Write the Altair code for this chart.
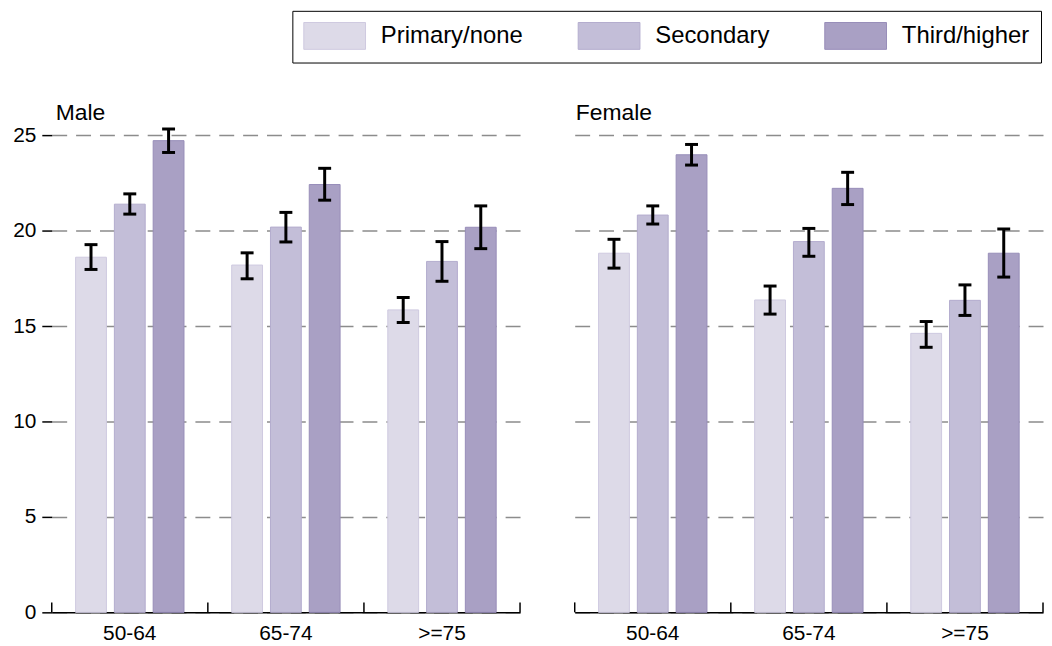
import altair as alt
import pandas as pd

ages = ["50-64", "65-74", ">=75"]
levels = ["Primary/none", "Secondary", "Third/higher"]
fills = ["#dddae8", "#c3bed8", "#a9a0c4"]
edges = ["#cfcae0", "#b3acce", "#978db8"]

# values in order: age (50-64, 65-74, >=75) x level (Primary, Secondary, Third)
male_mean = [18.61, 21.39, 24.72, 18.20, 20.19, 22.42, 15.85, 18.39, 20.18]
male_lo = [17.97, 20.87, 24.10, 17.48, 19.41, 21.60, 15.19, 17.35, 19.06]
male_hi = [19.27, 21.93, 25.33, 18.84, 20.96, 23.27, 16.50, 19.43, 21.30]

female_mean = [18.82, 20.82, 23.98, 16.37, 19.43, 22.22, 14.62, 16.35, 18.82]
female_lo = [18.04, 20.35, 23.44, 15.63, 18.66, 21.37, 13.89, 15.56, 17.57]
female_hi = [19.55, 21.30, 24.52, 17.10, 20.12, 23.06, 15.24, 17.16, 20.09]

y_ticks = [0, 5, 10, 15, 20, 25]
y_domain = [0, 26]

FONT = "Liberation Sans"
W, H = 471, 499


def make_df(mean, lo, hi):
    rows = []
    i = 0
    for a in ages:
        for l in levels:
            rows.append({"age": a, "level": l, "mean": mean[i], "lo": lo[i], "hi": hi[i]})
            i += 1
    return pd.DataFrame(rows)


legend = alt.Legend(
    title=None, orient="none", direction="horizontal",
    legendX=242, legendY=-106,
    symbolType="M-1,-1H3.6V1H-1Z", symbolSize=729,
    symbolStrokeWidth=1, symbolOpacity=1,
    labelFontSize=24, labelFont=FONT, labelColor="black",
    labelOffset=50, columnPadding=53, padding=11,
    strokeColor="black", fillColor="white",
)


def panel(df, title, first):
    x = alt.X(
        "age:N",
        sort=ages,
        scale=alt.Scale(domain=ages, paddingInner=0, paddingOuter=0),
        axis=alt.Axis(
            title=None, labelAngle=0, domainColor="black", domainWidth=1.5,
            ticks=False, labelPadding=10, labelFontSize=21, labelColor="black",
            labelFont=FONT,
        ),
    )
    xo = alt.XOffset(
        "level:N", sort=levels,
        scale=alt.Scale(domain=levels, paddingInner=0.205, paddingOuter=0.615),
    )
    yaxis = alt.Axis(
        values=y_ticks, grid=True, gridDash=[15, 9], gridColor="#8c8c8c",
        gridWidth=1.5, domain=False, ticks=first, tickSize=10, tickColor="black",
        tickWidth=1.5, labels=first, labelFontSize=21, labelPadding=6,
        labelColor="black", labelFont=FONT, title=None,
    )
    y = alt.Y("mean:Q", scale=alt.Scale(domain=y_domain, nice=False), axis=yaxis)

    base = alt.Chart(df)
    bars = base.mark_bar(strokeWidth=1).encode(
        x=x, xOffset=xo, y=y,
        color=alt.Color("level:N", sort=levels,
                        scale=alt.Scale(domain=levels, range=fills),
                        legend=legend if first else None),
        stroke=alt.Stroke("level:N", sort=levels,
                          scale=alt.Scale(domain=levels, range=edges), legend=None),
    )
    err = base.mark_rule(color="black", strokeWidth=3).encode(
        x=x, xOffset=xo, y="lo:Q", y2="hi:Q"
    )
    cap_lo = base.mark_tick(color="black", thickness=3, size=13, opacity=1).encode(
        x=x, xOffset=xo, y="lo:Q"
    )
    cap_hi = base.mark_tick(color="black", thickness=3, size=13, opacity=1).encode(
        x=x, xOffset=xo, y="hi:Q"
    )
    tdf = pd.DataFrame({"age": ages})
    up_ticks = alt.Chart(tdf).mark_rule(color="black", strokeWidth=1.5).encode(
        x=alt.X("age:N", sort=ages, bandPosition=0),
        y=alt.datum(0), y2=alt.value(H - 10),
    )
    end_tick = alt.Chart(tdf).transform_filter(
        alt.datum.age == ages[-1]
    ).mark_rule(color="black", strokeWidth=1.5).encode(
        x=alt.X("age:N", sort=ages, bandPosition=1),
        y=alt.datum(0), y2=alt.value(H - 10),
    )
    return alt.layer(bars, err, cap_lo, cap_hi, up_ticks, end_tick).properties(
        width=W, height=H,
        title=alt.TitleParams(title, anchor="start", frame="group", fontSize=23,
                              font=FONT, fontWeight="normal", color="black",
                              offset=10, dy=19, dx=4 if first else 1),
    )


left = panel(make_df(male_mean, male_lo, male_hi), "Male", True)
right = panel(make_df(female_mean, female_lo, female_hi), "Female", False)

chart = alt.hconcat(left, right, spacing=55, bounds="flush").properties(
    padding={"left": 4, "top": 0, "right": 0, "bottom": 0}
).configure(font=FONT).configure_view(stroke=None)

chart.save("out.html", embed_options={"renderer": "svg", "actions": False})
